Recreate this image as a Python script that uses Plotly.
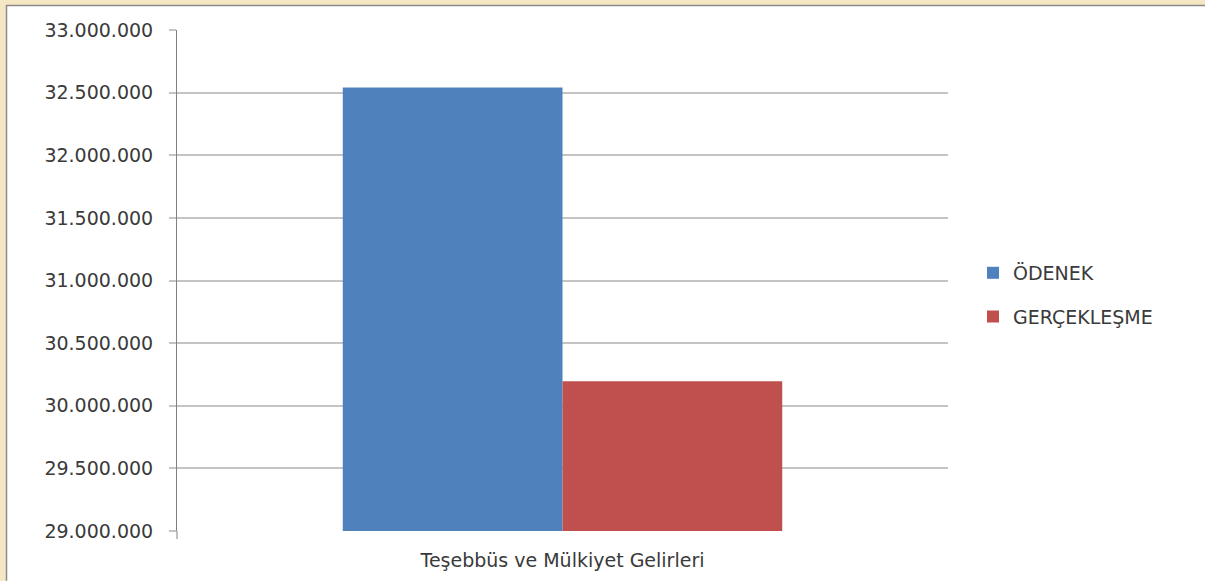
import plotly.graph_objects as go

categories = ["Teşebbüs ve Mülkiyet Gelirleri"]
series_names = ["ÖDENEK", "GERÇEKLEŞME"]
odenek = [32540000]
gerceklesme = [30195000]
colors = ["#4F81BD", "#C0504D"]

W, H = 1205, 583
ML, MR, MT, MB = 177, 257, 30, 50
PW, PH = W - ML - MR, H - MT - MB


def px_x(px):
    return (px - ML) / PW


def px_y(py):
    return (H - MB - py) / PH


fig = go.Figure()
for i, (name, vals) in enumerate(zip(series_names, [odenek, gerceklesme])):
    fig.add_trace(go.Bar(
        x=categories, y=vals, name=name, marker_color=colors[i],
        marker_line_width=0, legendgroup=name,
    ))

font_fam = "DejaVu Sans, Verdana, sans-serif"
txt_col = "#3a3a3a"
fs = 19

shapes = [
    # beige frame bands
    dict(type="rect", xref="paper", yref="paper", x0=px_x(0), x1=px_x(6), y0=px_y(H), y1=px_y(0),
         fillcolor="#F6E7C4", line_width=0, layer="below"),
    dict(type="rect", xref="paper", yref="paper", x0=px_x(0), x1=px_x(W), y0=px_y(5), y1=px_y(0),
         fillcolor="#F6E7C4", line_width=0, layer="below"),
    dict(type="line", xref="paper", yref="paper", x0=px_x(6.5), x1=px_x(6.5), y0=px_y(H), y1=px_y(5),
         line=dict(color="#8a8a8a", width=1.5), layer="below"),
    dict(type="line", xref="paper", yref="paper", x0=px_x(6), x1=px_x(W), y0=px_y(5.5), y1=px_y(5.5),
         line=dict(color="#8a8a8a", width=1.5), layer="below"),
    # axis line extension below the baseline
    dict(type="line", xref="paper", yref="paper", x0=0, x1=0, y0=px_y(541), y1=0,
         line=dict(color="#808080", width=1), layer="above"),
]

fig.update_layout(
    width=W, height=H,
    margin=dict(l=ML, r=MR, t=MT, b=MB, pad=0),
    paper_bgcolor="white", plot_bgcolor="white",
    separators=",.",
    barmode="group", bargap=0.43, bargroupgap=0,
    font=dict(family=font_fam, size=fs, color=txt_col),
    showlegend=True,
    legend=dict(x=px_x(973), xanchor="left", y=px_y(296), yanchor="middle",
                traceorder="grouped", tracegroupgap=16,
                font=dict(family=font_fam, size=fs, color=txt_col),
                bgcolor="rgba(0,0,0,0)"),
    shapes=shapes,
    xaxis=dict(showline=False, showgrid=False, ticks="", tickfont=dict(size=fs),
               ticklabelstandoff=16, fixedrange=True),
    yaxis=dict(range=[29000000, 33000000], dtick=500000, tick0=29000000,
               tickformat=",d", showgrid=True, gridcolor="#C4C4C4", gridwidth=1.5,
               showline=True, linecolor="#808080", linewidth=1,
               ticks="outside", ticklen=7, tickcolor="#C4C4C4", tickwidth=1.5,
               ticklabelstandoff=12, zeroline=False, tickfont=dict(size=fs)),
)

fig.write_html(
    "out.html", config={"displayModeBar": False},
    post_script="document.body.style.margin='0';document.body.style.overflow='hidden';"
                "document.documentElement.style.overflow='hidden';window.scrollTo(0,0);",
)
